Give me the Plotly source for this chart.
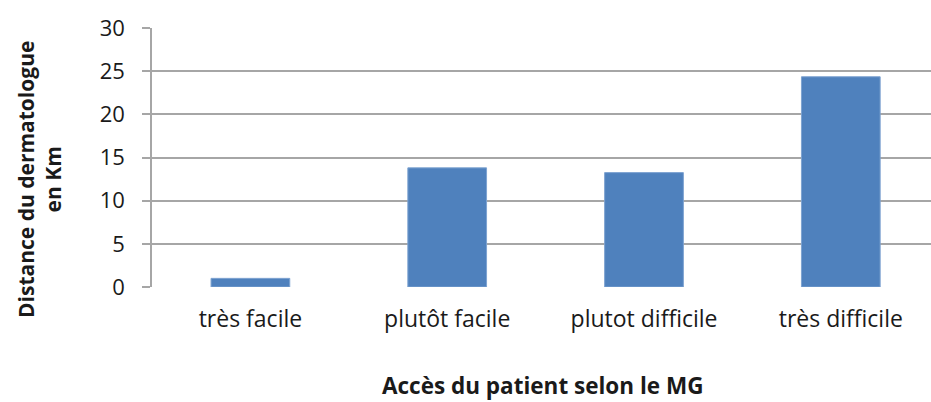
import plotly.graph_objects as go

categories = ["très facile", "plutôt facile", "plutot difficile", "très difficile"]
values = [1.0, 13.8, 13.25, 24.35]
y_ticks = [0, 5, 10, 15, 20, 25, 30]

W, H = 931, 402
L, R, T, B = 152, 0, 28, 115
plot_w = W - L - R
plot_h = H - T - B
cat_px = 196.8

fig = go.Figure(go.Bar(
    x=categories, y=values,
    marker=dict(color="#4F81BD", line=dict(color="#7EA3D1", width=1)),
    width=0.4,
))

fig.update_layout(
    width=W, height=H,
    margin=dict(l=L, r=R, t=T, b=B),
    paper_bgcolor="white", plot_bgcolor="white",
    font=dict(family="Open Sans", color="#1a1a1a", size=23),
    showlegend=False,
    xaxis=dict(
        range=[-0.5, -0.5 + plot_w / cat_px],
        showgrid=False, showline=False, ticks="",
        tickfont=dict(size=23),
        ticklabelstandoff=16,
    ),
    yaxis=dict(
        range=[0, 30], tickvals=y_ticks,
        showgrid=True, gridcolor="#A6A6A6", gridwidth=1.5,
        showline=True, linecolor="#A6A6A6", linewidth=1.5,
        ticks="outside", ticklen=8, tickcolor="#A6A6A6", tickwidth=1.5,
        tickfont=dict(size=22),
        ticklabelstandoff=13,
        zeroline=False,
    ),
    annotations=[
        dict(text="<b>Distance du dermatologue<br>en Km</b>", textangle=-90,
             xref="paper", yref="paper",
             x=(40 - L) / plot_w, y=(287 - 180) / plot_h,
             xanchor="center", yanchor="middle", showarrow=False,
             font=dict(size=21, family="Open Sans", color="#1a1a1a")),
        dict(text="<b>Accès du patient selon le MG</b>",
             xref="paper", yref="paper",
             x=(542 - L) / plot_w, y=-(385 - 287) / plot_h,
             xanchor="center", yanchor="middle", showarrow=False,
             font=dict(size=22.5, family="Open Sans", color="#1a1a1a")),
    ],
)

fig.write_html("out.html", config={"displayModeBar": False},
               post_script="document.body.style.margin='0';document.body.style.overflow='hidden';")
